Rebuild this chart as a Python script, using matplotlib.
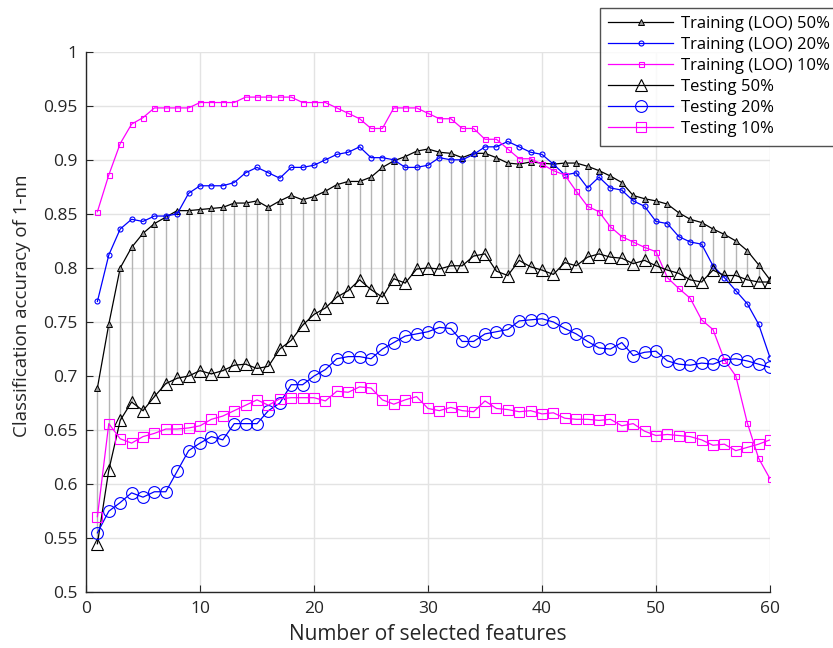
import matplotlib
matplotlib.use("Agg")
import matplotlib.pyplot as plt
import numpy as np

plt.rcParams['font.family'] = ['Open Sans', 'DejaVu Sans']

features = list(range(1, 61))

train_50 = [0.689, 0.748, 0.800, 0.819, 0.832, 0.841, 0.847, 0.853, 0.853, 0.854,
            0.855, 0.856, 0.860, 0.860, 0.862, 0.856, 0.862, 0.867, 0.863, 0.866,
            0.871, 0.877, 0.880, 0.880, 0.884, 0.893, 0.899, 0.903, 0.908, 0.910,
            0.907, 0.906, 0.902, 0.906, 0.906, 0.902, 0.897, 0.896, 0.898, 0.897,
            0.896, 0.897, 0.897, 0.894, 0.890, 0.885, 0.879, 0.867, 0.864, 0.862,
            0.859, 0.851, 0.845, 0.842, 0.836, 0.831, 0.825, 0.816, 0.803, 0.789]

train_20 = [0.769, 0.812, 0.836, 0.845, 0.843, 0.848, 0.848, 0.850, 0.869, 0.876,
            0.876, 0.876, 0.879, 0.888, 0.893, 0.888, 0.883, 0.893, 0.893, 0.895,
            0.900, 0.905, 0.907, 0.912, 0.902, 0.902, 0.900, 0.893, 0.893, 0.895,
            0.902, 0.900, 0.900, 0.905, 0.912, 0.912, 0.917, 0.912, 0.907, 0.905,
            0.896, 0.886, 0.888, 0.874, 0.884, 0.874, 0.872, 0.862, 0.857, 0.843,
            0.841, 0.829, 0.824, 0.822, 0.802, 0.791, 0.779, 0.767, 0.748, 0.717]

train_10 = [0.852, 0.886, 0.915, 0.933, 0.939, 0.948, 0.948, 0.948, 0.948, 0.953,
            0.953, 0.953, 0.953, 0.958, 0.958, 0.958, 0.958, 0.958, 0.953, 0.953,
            0.953, 0.948, 0.943, 0.938, 0.929, 0.929, 0.948, 0.948, 0.948, 0.943,
            0.938, 0.938, 0.929, 0.929, 0.919, 0.919, 0.910, 0.901, 0.901, 0.896,
            0.890, 0.886, 0.871, 0.857, 0.852, 0.838, 0.829, 0.824, 0.819, 0.815,
            0.791, 0.781, 0.772, 0.752, 0.743, 0.715, 0.700, 0.657, 0.624, 0.605]

test_50 = [0.545, 0.613, 0.659, 0.676, 0.668, 0.681, 0.693, 0.698, 0.700, 0.705,
           0.702, 0.705, 0.710, 0.711, 0.707, 0.709, 0.725, 0.733, 0.747, 0.757,
           0.763, 0.773, 0.779, 0.789, 0.780, 0.773, 0.790, 0.786, 0.799, 0.800,
           0.799, 0.802, 0.802, 0.811, 0.813, 0.797, 0.793, 0.807, 0.801, 0.798,
           0.794, 0.805, 0.802, 0.810, 0.813, 0.810, 0.809, 0.804, 0.807, 0.802,
           0.798, 0.795, 0.789, 0.787, 0.798, 0.793, 0.793, 0.789, 0.787, 0.787]

test_20 = [0.555, 0.575, 0.583, 0.592, 0.588, 0.593, 0.593, 0.612, 0.631, 0.638,
           0.644, 0.641, 0.656, 0.656, 0.656, 0.668, 0.675, 0.692, 0.692, 0.700,
           0.706, 0.716, 0.718, 0.718, 0.716, 0.725, 0.731, 0.737, 0.739, 0.741,
           0.745, 0.744, 0.732, 0.732, 0.739, 0.741, 0.743, 0.751, 0.752, 0.753,
           0.750, 0.744, 0.739, 0.732, 0.726, 0.725, 0.731, 0.719, 0.722, 0.723,
           0.714, 0.711, 0.710, 0.712, 0.711, 0.715, 0.716, 0.714, 0.711, 0.708]

test_10 = [0.570, 0.656, 0.642, 0.638, 0.644, 0.647, 0.651, 0.651, 0.652, 0.654,
           0.660, 0.663, 0.668, 0.673, 0.678, 0.673, 0.679, 0.680, 0.680, 0.680,
           0.677, 0.686, 0.685, 0.690, 0.689, 0.678, 0.674, 0.678, 0.681, 0.670,
           0.668, 0.671, 0.668, 0.667, 0.677, 0.670, 0.669, 0.667, 0.668, 0.665,
           0.666, 0.661, 0.660, 0.660, 0.659, 0.660, 0.654, 0.656, 0.649, 0.645,
           0.646, 0.645, 0.644, 0.641, 0.636, 0.637, 0.631, 0.634, 0.637, 0.641]

x_ticks = [0, 10, 20, 30, 40, 50, 60]
y_ticks = [0.5, 0.55, 0.6, 0.65, 0.7, 0.75, 0.8, 0.85, 0.9, 0.95, 1.0]
y_tick_labels = ['0.5', '0.55', '0.6', '0.65', '0.7', '0.75', '0.8', '0.85', '0.9', '0.95', '1']

fig = plt.figure(figsize=(8.33, 6.48), dpi=100)
ax = fig.add_axes([86/833, 1 - 592.3/648, 684/833, (592.3 - 51.7)/648])

ax.vlines(features, test_50, train_50, colors='#b4b4b4', linewidth=1.0, zorder=1)

ax.plot(features, train_50, color='black', marker='^', markersize=4, markerfacecolor='#9a9a9a',
        markeredgecolor='black', markeredgewidth=0.7, linewidth=0.9, label='Training (LOO) 50%', zorder=3)
ax.plot(features, train_20, color='blue', marker='o', markersize=3.6, markerfacecolor='none',
        markeredgewidth=0.8, linewidth=0.9, label='Training (LOO) 20%', zorder=3)
ax.plot(features, train_10, color='magenta', marker='s', markersize=3.6, markerfacecolor='none',
        markeredgewidth=0.8, linewidth=0.9, label='Training (LOO) 10%', zorder=3)
ax.plot(features, test_50, color='black', marker='^', markersize=9, markerfacecolor='none',
        markeredgewidth=0.8, linewidth=0.9, label='Testing 50%', zorder=3)
ax.plot(features, test_20, color='blue', marker='o', markersize=8.5, markerfacecolor='none',
        markeredgewidth=0.8, linewidth=0.9, label='Testing 20%', zorder=3)
ax.plot(features, test_10, color='magenta', marker='s', markersize=7.5, markerfacecolor='none',
        markeredgewidth=0.8, linewidth=0.9, label='Testing 10%', zorder=3)

ax.set_xlim(0, 60)
ax.set_ylim(0.5, 1.0)
ax.set_xticks(x_ticks)
ax.set_yticks(y_ticks)
ax.set_yticklabels(y_tick_labels)
ax.grid(True, color='#e3e3e3', linewidth=1.0, zorder=0)
ax.set_axisbelow(True)
for s in ['top', 'right']:
    ax.spines[s].set_visible(False)
for s in ['left', 'bottom']:
    ax.spines[s].set_color('#262626')
    ax.spines[s].set_linewidth(1.0)
ax.tick_params(direction='in', length=5, width=0.8, color='#262626', labelsize=12.5,
               labelcolor='#262626', pad=6)
ax.set_xlabel('Number of selected features', fontsize=15, color='#262626', labelpad=5)
ax.set_ylabel('Classification accuracy of 1-nn', fontsize=13.5, color='#262626')
ax.yaxis.set_label_coords(-0.08, 0.53)

leg = fig.legend(loc='upper left', bbox_to_anchor=(600/833, 1 - 8/648), fontsize=12,
                 handlelength=3.9, frameon=True, fancybox=False, edgecolor='#262626',
                 borderpad=0.5, labelspacing=0.3, handletextpad=0.45, borderaxespad=0)
leg.get_frame().set_linewidth(1.0)

fig.savefig('out.png', dpi=100)
